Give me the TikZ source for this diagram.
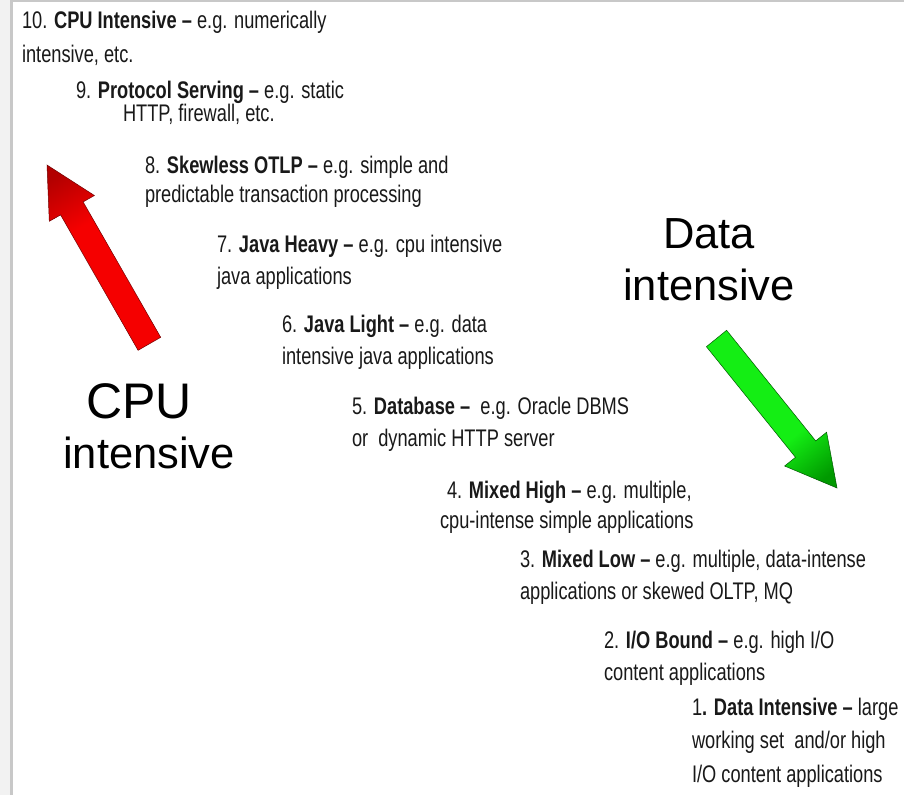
\documentclass[tikz,border=0pt]{standalone}
\usepackage{fontspec}
\newfontfamily\listfont{Liberation Sans}[FakeStretch=0.76]
\newfontfamily\labelfont{Liberation Sans}
\definecolor{arrowred}{RGB}{245,0,0}
\definecolor{arrowgreen}{RGB}{20,238,20}
\definecolor{framegray}{RGB}{200,200,200}
\definecolor{stripgray}{RGB}{242,242,242}
\pgfdeclareverticalshading{redfade}{100bp}{color(0bp)=(arrowred); color(62bp)=(arrowred); color(80bp)=(red!70!black); color(100bp)=(red!70!black)}
\pgfdeclareverticalshading{greenfade}{100bp}{color(0bp)=(arrowgreen); color(62bp)=(arrowgreen); color(80bp)=(green!60!black); color(100bp)=(green!60!black)}
\begin{document}
\begin{tikzpicture}[x=1pt,y=-1pt,
  item/.style={anchor=base west, inner sep=0pt, outer sep=0pt,
    font=\listfont\fontsize{24}{28}\selectfont, text=black!90},
  biglabel/.style={anchor=base, inner sep=0pt, outer sep=0pt, text=black},
  bigfont/.style={font=\labelfont\fontsize{43.5}{52}\selectfont},
  cpufont/.style={font=\labelfont\fontsize{50}{52}\selectfont},
  redarrow/.style={shading=redfade, shading angle=30, draw=red!45!black, line width=0.5pt},
  greenarrow/.style={shading=greenfade, shading angle=-141, draw=green!35!black, line width=0.5pt}]
\useasboundingbox (0,0) rectangle (904,795);
\fill[white] (0,0) rectangle (904,795);

% page frame: grey strip on the left, rules along the left and top edges
\fill[stripgray] (0,0) rectangle (10,795);
\draw[framegray, line width=3pt] (11.5,0) -- (11.5,795);
\draw[framegray, line width=2pt] (10,1) -- (904,1);

% workload categories, from CPU intensive (top) to data intensive (bottom)
\node[item] (i10a) at (22,28)  {10. \textbf{CPU Intensive –} e.g. numerically};
\node[item] (i10b) at (22,62)  {intensive, etc.};
\node[item] (i9a)  at (76,98)  {9. \textbf{Protocol Serving –} e.g. static};
\node[item] (i9b)  at (123,121) {HTTP, firewall, etc.};
\node[item] (i8a)  at (145,173) {8. \textbf{Skewless OTLP –} e.g. simple and};
\node[item] (i8b)  at (145,202) {predictable transaction processing};
\node[item] (i7a)  at (217,252) {7. \textbf{Java Heavy –} e.g. cpu intensive};
\node[item] (i7b)  at (217,284) {java applications};
\node[item] (i6a)  at (282,332) {6. \textbf{Java Light –} e.g. data};
\node[item] (i6b)  at (282,364) {intensive java applications};
\node[item] (i5a)  at (352,414) {5. \textbf{Database –}\ \ e.g. Oracle DBMS};
\node[item] (i5b)  at (352,446) {or\ \ dynamic HTTP server};
\node[item] (i4a)  at (447,498) {4. \textbf{Mixed High –} e.g. multiple,};
\node[item] (i4b)  at (440,528) {cpu-intense simple applications};
\node[item] (i3a)  at (520,567) {3. \textbf{Mixed Low –} e.g. multiple, data-intense};
\node[item] (i3b)  at (520,599) {applications or skewed OLTP, MQ};
\node[item] (i2a)  at (604,648) {2. \textbf{I/O Bound –} e.g. high I/O};
\node[item] (i2b)  at (604,680) {content applications};
\node[item] (i1a)  at (692,715) {1\textbf{. Data Intensive –} large};
\node[item] (i1b)  at (692,748) {working set\ \ and/or high};
\node[item] (i1c)  at (692,782) {I/O content applications};

% direction labels
\node[biglabel, cpufont] (cpu1) at (139,418) {CPU};
\node[biglabel, bigfont] (cpu2) at (149,468) {intensive};
\node[biglabel, bigfont] (dat1) at (709,248) {Data};
\node[biglabel, bigfont] (dat2) at (709,300) {intensive};

% block arrow pointing up-left (towards CPU intensive)
\path[redarrow] (47,165) -- (94.4,195.5) -- (83.1,201.9) -- (160.7,337.3)
  -- (138.1,350.3) -- (60.6,214.9) -- (49.3,221.3) -- cycle;

% block arrow pointing down-right (towards data intensive)
\path[greenarrow] (837,488) -- (826.6,432.2) -- (815.7,440.9) -- (726.6,330.3)
  -- (706.4,346.7) -- (795.5,457.3) -- (784.6,466.0) -- cycle;
\end{tikzpicture}
\end{document}
